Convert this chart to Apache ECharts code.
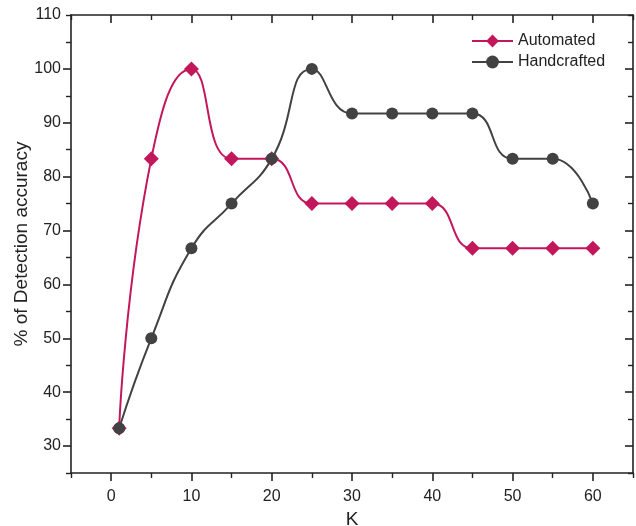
<!DOCTYPE html>
<html style="height: 100%">
<head>
	<meta charset="utf-8">
	<script src="https://cdn.jsdelivr.net/npm/echarts@6/dist/echarts.min.js"></script>
</head>
<body style="height: 100%; margin: 0; background: #fff">
	<div id="container" style="width: 636px; height: 526px"></div>
	<script type="text/javascript">
		// values
		let kValues = [1, 5, 10, 15, 20, 25, 30, 35, 40, 45, 50, 55, 60];
		let automated = [33.3, 83.3, 100, 83.3, 83.3, 75, 75, 75, 75, 66.7, 66.7, 66.7, 66.7];
		let handcrafted = [33.3, 50, 66.7, 75, 83.3, 100, 91.7, 91.7, 91.7, 91.7, 83.3, 83.3, 75];
		let xTickLabels = [0, 10, 20, 30, 40, 50, 60];
		let yTickLabels = [30, 40, 50, 60, 70, 80, 90, 100, 110];

		let font = 'Liberation Sans, Arial, sans-serif';
		let ink = '#222';

		function pairs(ys) {
			let out = [];
			for (let i = 0; i < kValues.length; i++) {
				out.push([kValues[i], ys[i]]);
			}
			return out;
		}

		// ticks run from min (the odd 5s) and are short; the minor ticks fall on the
		// labelled tens and are drawn longer, so they read as the major ones
		function frameAxis(pos, isMain, labels, extra) {
			let ax = {
				type: 'value',
				position: pos,
				nameMoveOverlap: false,
				axisLine: { show: true, onZero: false, lineStyle: { color: ink, width: 1.6 } },
				axisTick: { show: true, inside: !isMain, length: 5, lineStyle: { color: ink, width: 1.4 } },
				minorTick: { show: true, splitNumber: 2, length: 8, lineStyle: { color: ink, width: 1.6 } },
				splitLine: { show: false },
				axisLabel: {
					show: isMain, color: ink, fontFamily: font, fontSize: 16,
					margin: (pos === 'bottom') ? 16 : 10,
					customValues: labels
				}
			};
			return Object.assign(ax, extra);
		}

		let dom = document.getElementById('container');
		let myChart = echarts.init(dom, null, { renderer: 'canvas' });

		let option = {
			animation: false,
			grid: { left: 71, right: 3, top: 15, bottom: 53, containLabel: false, outerBoundsMode: 'none' },
			legend: {
				orient: 'vertical',
				left: 466,
				top: 28,
				itemWidth: 41,
				itemHeight: 16,
				itemGap: 5,
				textStyle: { color: ink, fontFamily: font, fontSize: 16 },
				data: ['Automated', 'Handcrafted']
			},
			xAxis: [
				frameAxis('bottom', true, xTickLabels, {
					min: -5, max: 65, interval: 10,
					name: 'K', nameLocation: 'middle', nameGap: 37,
					nameTextStyle: { color: ink, fontFamily: font, fontSize: 19 }
				}),
				frameAxis('top', false, xTickLabels, { min: -5, max: 65, interval: 10 })
			],
			yAxis: [
				frameAxis('left', true, yTickLabels, {
					min: 25, max: 110, interval: 10,
					name: '% of Detection accuracy', nameLocation: 'middle', nameGap: 40,
					nameTextStyle: { color: ink, fontFamily: font, fontSize: 19 }
				}),
				frameAxis('right', false, yTickLabels, { min: 25, max: 110, interval: 10 })
			],
			series: [
				{
					name: 'Automated',
					type: 'line',
					smooth: 0.5,
					symbol: 'diamond',
					symbolSize: 15,
					itemStyle: { color: '#c2185b' },
					lineStyle: { color: '#c2185b', width: 2 },
					data: pairs(automated)
				},
				{
					name: 'Handcrafted',
					type: 'line',
					smooth: 0.5,
					symbol: 'circle',
					symbolSize: 12,
					itemStyle: { color: '#424242' },
					lineStyle: { color: '#424242', width: 2 },
					data: pairs(handcrafted)
				}
			]
		};

		myChart.setOption(option);
	</script>
</body>
</html>
